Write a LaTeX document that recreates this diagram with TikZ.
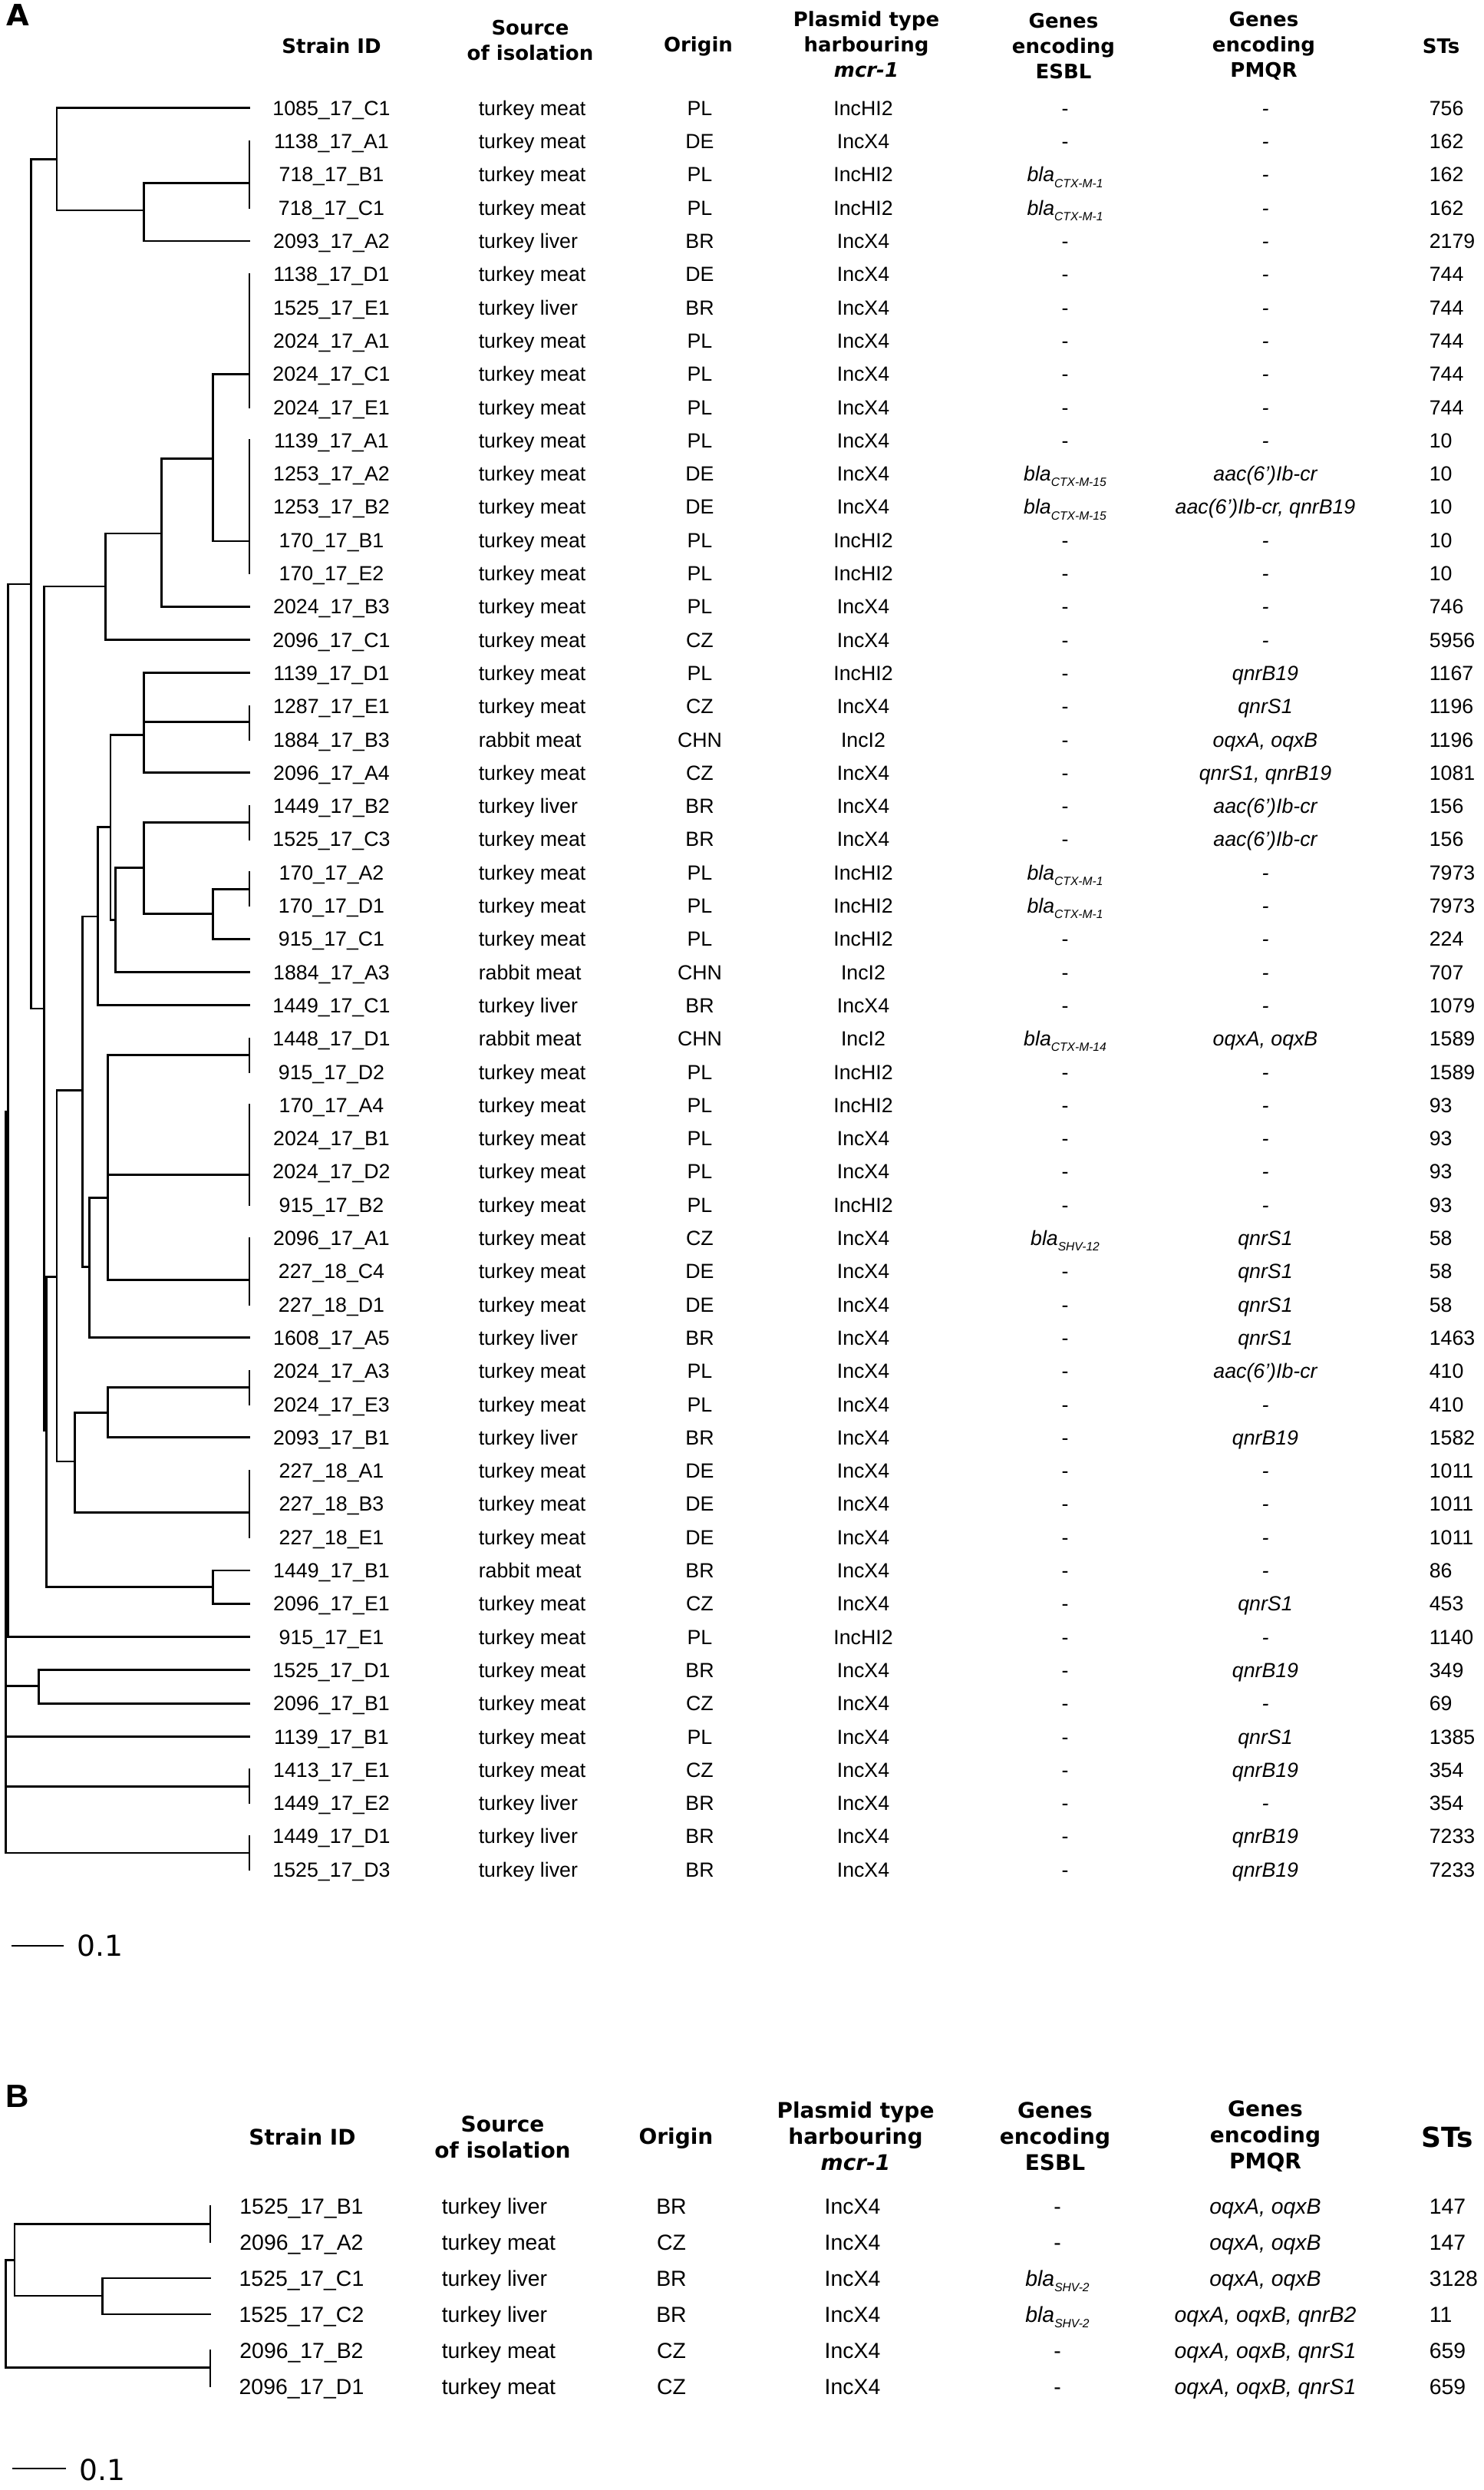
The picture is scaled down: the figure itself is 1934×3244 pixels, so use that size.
\documentclass[tikz,border=0pt]{standalone}
\usepackage{fontspec}
\setmainfont{Liberation Sans}
\newfontfamily\hdfont{DejaVu Sans}
\usetikzlibrary{positioning}
\newcommand\bla[1]{\textit{bla}\raisebox{-1.8pt}{\fontsize{3.9}{4}\selectfont\textit{#1}}}
\def\scalebarA{(16.7,2535) -- (81.7,2535)}
\def\scalebarB{(17.3,3216) -- (85,3216)}
\tikzset{
  branch/.style={line width=0.7pt, line cap=rect},
  cellA/.style={inner sep=0pt, font=\fontsize{6.68}{8}\selectfont},
  cellB/.style={inner sep=0pt, font=\fontsize{7.1}{8.5}\selectfont},
  hdrA/.style={align=center, inner sep=0pt, font=\hdfont\bfseries\fontsize{6.5}{8.25}\selectfont},
  hdrB/.style={align=center, inner sep=0pt, font=\hdfont\bfseries\fontsize{7}{8.5}\selectfont},
  panel/.style={inner sep=0pt, anchor=north west}
}

\begin{document}
\begin{tikzpicture}[x=0.25pt, y=-0.25pt,
    declare function={ry(\n)=140.7+(\n-1)*43.3; rb(\n)=2874+(\n-1)*47;}]
\useasboundingbox (0,0) rectangle (1934,3244);

% ---- panel A
\node[panel, font=\hdfont\bfseries\fontsize{9.6}{10}\selectfont] (labA) at (8,5) {A};
\node[hdrA] (hA1) at (432,60) {Strain ID};
\node[hdrA] (hA2) at (691,53) {Source\\of isolation};
\node[hdrA] (hA3) at (910,60) {Origin};
\node[hdrA] (hA4) at (1129,58) {Plasmid type\\harbouring\\\textit{mcr-1}};
\node[hdrA] (hA5) at (1386,60) {Genes\\encoding\\ESBL};
\node[hdrA] (hA6) at (1647,60) {Genes\\encoding\\PMQR};
\node[hdrA] (hA7) at (1878,60) {STs};

\foreach \n/\sid/\src/\org/\pls/\esb/\pmq/\st in {
 1/1085\_17\_C1/turkey meat/PL/IncHI2/-/-/756,
 2/1138\_17\_A1/turkey meat/DE/IncX4/-/-/162,
 3/718\_17\_B1/turkey meat/PL/IncHI2/\bla{CTX-M-1}/-/162,
 4/718\_17\_C1/turkey meat/PL/IncHI2/\bla{CTX-M-1}/-/162,
 5/2093\_17\_A2/turkey liver/BR/IncX4/-/-/2179,
 6/1138\_17\_D1/turkey meat/DE/IncX4/-/-/744,
 7/1525\_17\_E1/turkey liver/BR/IncX4/-/-/744,
 8/2024\_17\_A1/turkey meat/PL/IncX4/-/-/744,
 9/2024\_17\_C1/turkey meat/PL/IncX4/-/-/744,
 10/2024\_17\_E1/turkey meat/PL/IncX4/-/-/744,
 11/1139\_17\_A1/turkey meat/PL/IncX4/-/-/10,
 12/1253\_17\_A2/turkey meat/DE/IncX4/\bla{CTX-M-15}/aac(6’)Ib-cr/10,
 13/1253\_17\_B2/turkey meat/DE/IncX4/\bla{CTX-M-15}/{aac(6’)Ib-cr, qnrB19}/10,
 14/170\_17\_B1/turkey meat/PL/IncHI2/-/-/10,
 15/170\_17\_E2/turkey meat/PL/IncHI2/-/-/10,
 16/2024\_17\_B3/turkey meat/PL/IncX4/-/-/746,
 17/2096\_17\_C1/turkey meat/CZ/IncX4/-/-/5956,
 18/1139\_17\_D1/turkey meat/PL/IncHI2/-/qnrB19/1167,
 19/1287\_17\_E1/turkey meat/CZ/IncX4/-/qnrS1/1196,
 20/1884\_17\_B3/rabbit meat/CHN/IncI2/-/{oqxA, oqxB}/1196,
 21/2096\_17\_A4/turkey meat/CZ/IncX4/-/{qnrS1, qnrB19}/1081,
 22/1449\_17\_B2/turkey liver/BR/IncX4/-/aac(6’)Ib-cr/156,
 23/1525\_17\_C3/turkey meat/BR/IncX4/-/aac(6’)Ib-cr/156,
 24/170\_17\_A2/turkey meat/PL/IncHI2/\bla{CTX-M-1}/-/7973,
 25/170\_17\_D1/turkey meat/PL/IncHI2/\bla{CTX-M-1}/-/7973,
 26/915\_17\_C1/turkey meat/PL/IncHI2/-/-/224,
 27/1884\_17\_A3/rabbit meat/CHN/IncI2/-/-/707,
 28/1449\_17\_C1/turkey liver/BR/IncX4/-/-/1079,
 29/1448\_17\_D1/rabbit meat/CHN/IncI2/\bla{CTX-M-14}/{oqxA, oqxB}/1589,
 30/915\_17\_D2/turkey meat/PL/IncHI2/-/-/1589,
 31/170\_17\_A4/turkey meat/PL/IncHI2/-/-/93,
 32/2024\_17\_B1/turkey meat/PL/IncX4/-/-/93,
 33/2024\_17\_D2/turkey meat/PL/IncX4/-/-/93,
 34/915\_17\_B2/turkey meat/PL/IncHI2/-/-/93,
 35/2096\_17\_A1/turkey meat/CZ/IncX4/\bla{SHV-12}/qnrS1/58,
 36/227\_18\_C4/turkey meat/DE/IncX4/-/qnrS1/58,
 37/227\_18\_D1/turkey meat/DE/IncX4/-/qnrS1/58,
 38/1608\_17\_A5/turkey liver/BR/IncX4/-/qnrS1/1463,
 39/2024\_17\_A3/turkey meat/PL/IncX4/-/aac(6’)Ib-cr/410,
 40/2024\_17\_E3/turkey meat/PL/IncX4/-/-/410,
 41/2093\_17\_B1/turkey liver/BR/IncX4/-/qnrB19/1582,
 42/227\_18\_A1/turkey meat/DE/IncX4/-/-/1011,
 43/227\_18\_B3/turkey meat/DE/IncX4/-/-/1011,
 44/227\_18\_E1/turkey meat/DE/IncX4/-/-/1011,
 45/1449\_17\_B1/rabbit meat/BR/IncX4/-/-/86,
 46/2096\_17\_E1/turkey meat/CZ/IncX4/-/qnrS1/453,
 47/915\_17\_E1/turkey meat/PL/IncHI2/-/-/1140,
 48/1525\_17\_D1/turkey meat/BR/IncX4/-/qnrB19/349,
 49/2096\_17\_B1/turkey meat/CZ/IncX4/-/-/69,
 50/1139\_17\_B1/turkey meat/PL/IncX4/-/qnrS1/1385,
 51/1413\_17\_E1/turkey meat/CZ/IncX4/-/qnrB19/354,
 52/1449\_17\_E2/turkey liver/BR/IncX4/-/-/354,
 53/1449\_17\_D1/turkey liver/BR/IncX4/-/qnrB19/7233,
 54/1525\_17\_D3/turkey liver/BR/IncX4/-/qnrB19/7233}
{
  \node[cellA, anchor=base] (sid\n) at (432,{ry(\n)+9.6}) {\sid};
  \node[cellA, anchor=base west] (src\n) at (623,{ry(\n)+9.6}) {\src};
  \node[cellA, anchor=base] (org\n) at (912,{ry(\n)+9.6}) {\org};
  \node[cellA, anchor=base] (pls\n) at (1125,{ry(\n)+9.6}) {\pls};
  \node[cellA, anchor=base] (esb\n) at (1388,{ry(\n)+9.6}) {\esb};
  \node[cellA, anchor=base] (pmq\n) at (1649,{ry(\n)+9.6}) {\itshape\pmq};
  \node[cellA, anchor=base west] (st\n) at (1862,{ry(\n)+9.6}) {\st};
}

% tree A, upper clade
\draw[branch] (325,{ry(1)}) -| (74,274) -- (187.7,274);
\draw[branch] (40.7,207.5) -- (74,207.5);
\draw[branch] (325,238.4) -| (187.7,{ry(5)}) -- (325,{ry(5)});
\draw[branch] (325,{ry(2)}) -- (325,{ry(4)});
\draw[branch] (40.7,207.5) -- (40.7,1314) -- (57.3,1314);
\draw[branch] (137.3,764) -| (57.3,1864) -- (60.7,1864);
\draw[branch] (210.7,695) -| (137.3,{ry(17)}) -- (325,{ry(17)});
\draw[branch] (277.3,597.4) -| (210.7,{ry(16)}) -- (325,{ry(16)});
\draw[branch] (325,487.5) -| (277.3,705) -- (325,705);
\draw[branch] (325,{ry(6)}) -- (325,{ry(10)});
\draw[branch] (325,{ry(11)}) -- (325,{ry(15)});
% tree A, middle clade
\draw[branch] (74,1663.3) -| (60.7,2067.3) -- (277.3,2067.3);
\draw[branch] (325,{ry(45)}) -| (277.3,{ry(46)}) -- (325,{ry(46)});
\draw[branch] (107.3,1420.7) -| (74,1904) -- (97.3,1904);
\draw[branch] (127.3,1194) -| (107.3,1650.7) -- (116.7,1650.7);
\draw[branch] (144,1077.3) -| (127.3,{ry(28)}) -- (325,{ry(28)});
\draw[branch] (187.3,957.3) -| (144,1198.3) -- (150.7,1198.3);
\draw[branch] (325,{ry(18)}) -| (187.3,{ry(21)}) -- (325,{ry(21)});
\draw[branch] (187.3,940.7) -- (325,940.7);
\draw[branch] (325,{ry(19)}) -- (325,{ry(20)});
\draw[branch] (187.3,1130.7) -| (150.7,{ry(27)}) -- (325,{ry(27)});
\draw[branch] (325,1071.7) -| (187.3,1190.7) -- (277.3,1190.7);
\draw[branch] (325,{ry(22)}) -- (325,{ry(23)});
\draw[branch] (325,1158.3) -| (277.3,{ry(26)}) -- (325,{ry(26)});
\draw[branch] (325,{ry(24)}) -- (325,{ry(25)});
\draw[branch] (140.7,1560.7) -| (116.7,{ry(38)}) -- (325,{ry(38)});
\draw[branch] (325,1374.5) -| (140.7,1667.7) -- (325,1667.7);
\draw[branch] (140.7,1530.7) -- (325,1530.7);
\draw[branch] (325,{ry(29)}) -- (325,{ry(30)});
\draw[branch] (325,{ry(31)}) -- (325,{ry(34)});
\draw[branch] (325,{ry(35)}) -- (325,{ry(37)});
\draw[branch] (140.7,1840.7) -| (97.3,1970.7) -- (325,1970.7);
\draw[branch] (325,{ry(42)}) -- (325,{ry(44)});
\draw[branch] (325,1807.8) -| (140.7,{ry(41)}) -- (325,{ry(41)});
\draw[branch] (325,{ry(39)}) -- (325,{ry(40)});
% tree A, root
\draw[branch] (40.7,761) -- (10.7,761) |- (325,{ry(47)});
\draw[branch] (10.7,1448) -- (7.3,1448) |- (325,2414);
\draw[branch] (7.3,2196.7) -- (50.7,2196.7);
\draw[branch] (325,{ry(48)}) -| (50.7,{ry(49)}) -- (325,{ry(49)});
\draw[branch] (7.3,{ry(50)}) -- (325,{ry(50)});
\draw[branch] (7.3,2327.5) -- (325,2327.5);
\draw[branch] (325,{ry(51)}) -- (325,{ry(52)});
\draw[branch] (325,{ry(53)}) -- (325,{ry(54)});

\draw[branch] \scalebarA;
\node[inner sep=0pt, anchor=west, font=\hdfont\fontsize{9.4}{10}\selectfont] (sclA) at (100,2535) {0.1};

% ---- panel B
\node[panel, font=\bfseries\fontsize{10.5}{11}\selectfont] (labB) at (7,2716) {B};
\node[hdrB] (hB1) at (394,2784) {Strain ID};
\node[hdrB] (hB2) at (655,2784) {Source\\of isolation};
\node[hdrB] (hB3) at (881,2786) {Origin};
\node[hdrB] (hB4) at (1115,2783) {Plasmid type\\harbouring\\\textit{mcr-1}};
\node[hdrB] (hB5) at (1375,2783) {Genes\\encoding\\ESBL};
\node[hdrB] (hB6) at (1649,2783) {Genes\\encoding\\PMQR};
\node[hdrB, font=\hdfont\bfseries\fontsize{9}{10}\selectfont] (hB7) at (1886,2784) {STs};

\foreach \n/\sid/\src/\org/\pls/\esb/\pmq/\st in {
 1/1525\_17\_B1/turkey liver/BR/IncX4/-/{oqxA, oqxB}/147,
 2/2096\_17\_A2/turkey meat/CZ/IncX4/-/{oqxA, oqxB}/147,
 3/1525\_17\_C1/turkey liver/BR/IncX4/\bla{SHV-2}/{oqxA, oqxB}/3128,
 4/1525\_17\_C2/turkey liver/BR/IncX4/\bla{SHV-2}/{oqxA, oqxB, qnrB2}/11,
 5/2096\_17\_B2/turkey meat/CZ/IncX4/-/{oqxA, oqxB, qnrS1}/659,
 6/2096\_17\_D1/turkey meat/CZ/IncX4/-/{oqxA, oqxB, qnrS1}/659}
{
  \node[cellB, anchor=base] (bsid\n) at (393,{rb(\n)+10.2}) {\sid};
  \node[cellB, anchor=base west] (bsrc\n) at (575,{rb(\n)+10.2}) {\src};
  \node[cellB, anchor=base] (borg\n) at (875,{rb(\n)+10.2}) {\org};
  \node[cellB, anchor=base] (bpls\n) at (1111,{rb(\n)+10.2}) {\pls};
  \node[cellB, anchor=base] (besb\n) at (1378,{rb(\n)+10.2}) {\esb};
  \node[cellB, anchor=base] (bpmq\n) at (1649,{rb(\n)+10.2}) {\itshape\pmq};
  \node[cellB, anchor=base west] (bst\n) at (1862,{rb(\n)+10.2}) {\st};
}

% tree B
\draw[branch] (19,2944.4) -- (7.3,2944.4) |- (274,3084.7);
\draw[branch] (274,2897.6) -| (19,2991) -- (133.3,2991);
\draw[branch] (274,{rb(3)}) -| (133.3,{rb(4)}) -- (274,{rb(4)});
\draw[branch] (274,{rb(1)}) -- (274,{rb(2)});
\draw[branch] (274,{rb(5)}) -- (274,{rb(6)});

\draw[branch] \scalebarB;
\node[inner sep=0pt, anchor=west, font=\hdfont\fontsize{9.4}{10}\selectfont] (sclB) at (103,3218) {0.1};
\end{tikzpicture}
\end{document}
